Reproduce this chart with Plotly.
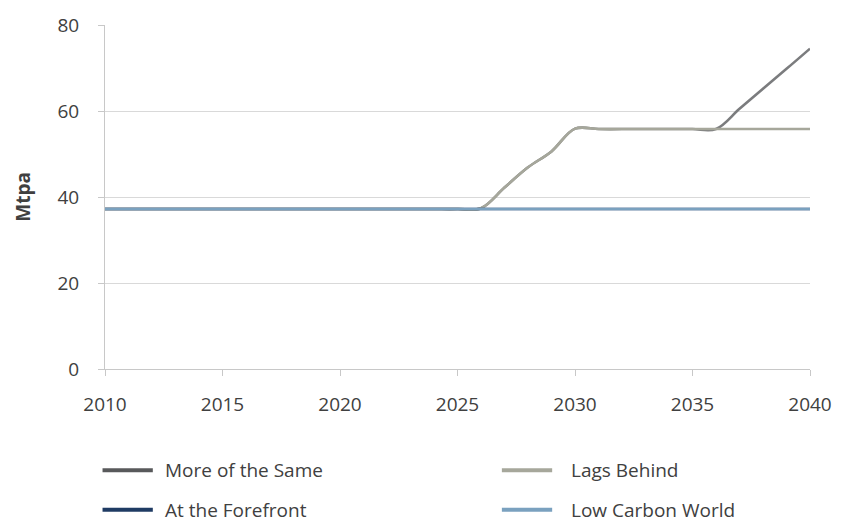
import plotly.graph_objects as go

years = [2010, 2011, 2012, 2013, 2014, 2015, 2016, 2017, 2018, 2019,
         2020, 2021, 2022, 2023, 2024, 2025, 2026, 2027, 2028, 2029,
         2030, 2031, 2032, 2033, 2034, 2035, 2036, 2037, 2038, 2039, 2040]

more_of_the_same = [37.2, 37.2, 37.2, 37.2, 37.2, 37.2, 37.2, 37.2, 37.2, 37.2,
                    37.2, 37.2, 37.2, 37.2, 37.2, 37.2, 37.4, 42.2, 46.9, 50.6,
                    55.9, 55.8, 55.8, 55.8, 55.8, 55.8, 55.8, 60.5, 65.2, 69.8, 74.5]

lags_behind = [37.2, 37.2, 37.2, 37.2, 37.2, 37.2, 37.2, 37.2, 37.2, 37.2,
               37.2, 37.2, 37.2, 37.2, 37.2, 37.2, 37.4, 42.2, 46.9, 50.6,
               55.9, 55.8, 55.8, 55.8, 55.8, 55.8, 55.8, 55.8, 55.8, 55.8, 55.8]

at_the_forefront = [37.2, 37.2, 37.2, 37.2, 37.2, 37.2, 37.2, 37.2, 37.2, 37.2,
                    37.2, 37.2, 37.2, 37.2, 37.2, 37.2, 37.2, 37.2, 37.2, 37.2,
                    37.2, 37.2, 37.2, 37.2, 37.2, 37.2, 37.2, 37.2, 37.2, 37.2, 37.2]

low_carbon_world = [37.2, 37.2, 37.2, 37.2, 37.2, 37.2, 37.2, 37.2, 37.2, 37.2,
                    37.2, 37.2, 37.2, 37.2, 37.2, 37.2, 37.2, 37.2, 37.2, 37.2,
                    37.2, 37.2, 37.2, 37.2, 37.2, 37.2, 37.2, 37.2, 37.2, 37.2, 37.2]

series_names = ["More of the Same", "Lags Behind", "At the Forefront", "Low Carbon World"]
series_values = [more_of_the_same, lags_behind, at_the_forefront, low_carbon_world]
series_colors = ["#7b7c7e", "#a6a79b", "#1f3b63", "#7aa1bf"]
legend_colors = ["#58595b", "#a6a79b", "#1f3b63", "#7aa1bf"]

x_ticks = [2010, 2015, 2020, 2025, 2030, 2035, 2040]
y_ticks = [0, 20, 40, 60, 80]

FONT = "Open Sans"
TEXT = "#404040"
W, H = 844, 523
L, R, T, B = 104.5, 24.5, 20.7, 153.7
PW = W - L - R
PH = H - T - B

fig = go.Figure()
for name, vals, col in zip(series_names, series_values, series_colors):
    fig.add_trace(go.Scatter(
        x=years, y=vals, name=name, mode="lines",
        line=dict(color=col, width=2.6, shape="spline", smoothing=1.0),
        showlegend=False, hoverinfo="x+y+name"))

def px_x(X):
    return (X - L) / PW

def px_y(Y):
    return (H - B - Y) / PH

# manual legend (2 x 2)
legend_pos = [(102, 153, 163, 472), (507, 558, 575, 472),
              (102, 153, 163, 512), (507, 558, 575, 512)]
shapes = []
annotations = []
for (x0, x1, xt, yy), name, col in zip(legend_pos, series_names, legend_colors):
    shapes.append(dict(type="line", xref="paper", yref="paper",
                       x0=px_x(x0), x1=px_x(x1), y0=px_y(yy), y1=px_y(yy),
                       line=dict(color=col, width=4)))
    annotations.append(dict(xref="paper", yref="paper", x=px_x(xt), y=px_y(yy),
                            text=name, showarrow=False, xanchor="left", yanchor="middle",
                            font=dict(family=FONT, size=19, color=TEXT)))

annotations.append(dict(xref="paper", yref="paper", x=px_x(21), y=0.5,
                        text="<b>Mtpa</b>", textangle=-90, showarrow=False,
                        xanchor="center", yanchor="middle",
                        font=dict(family=FONT, size=19, color=TEXT)))

fig.update_layout(
    width=W, height=H,
    margin=dict(l=L, r=R, t=T, b=B, pad=0),
    paper_bgcolor="white", plot_bgcolor="white",
    font=dict(family=FONT, size=19, color=TEXT),
    shapes=shapes, annotations=annotations,
    xaxis=dict(range=[2010, 2040], tickvals=x_ticks, ticktext=[str(v) for v in x_ticks],
               showgrid=False, zeroline=False, showline=True, linecolor="#c8c8c8", linewidth=1,
               ticks="outside", ticklen=6, tickcolor="#c8c8c8", tickwidth=1,
               ticklabelstandoff=12, tickfont=dict(family=FONT, size=19, color=TEXT)),
    yaxis=dict(range=[0, 80], tickvals=y_ticks, showgrid=True, gridcolor="#d9d9d9", gridwidth=1,
               zeroline=False, showline=True, linecolor="#c8c8c8", linewidth=1,
               ticks="outside", ticklen=6, tickcolor="#c8c8c8", tickwidth=1,
               ticklabelstandoff=15, tickfont=dict(family=FONT, size=19, color=TEXT)),
)

fig.write_html("out.html")
